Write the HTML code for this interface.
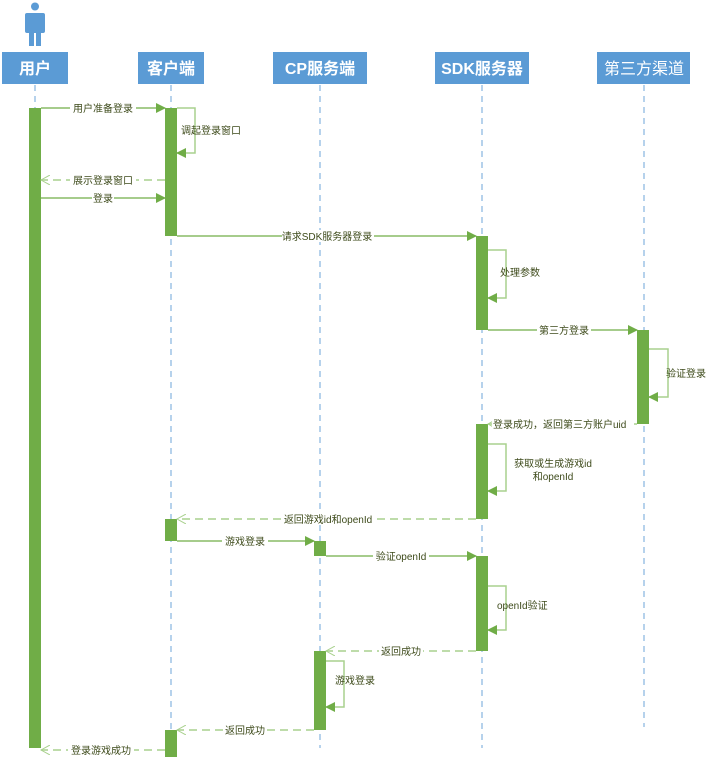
<!DOCTYPE html>
<html><head><meta charset="utf-8"><style>
html,body{margin:0;padding:0;background:#fff;}
svg text{font-family:"Liberation Sans","Noto Sans CJK SC",sans-serif;}
</style></head><body>
<svg width="715" height="762" viewBox="0 0 715 762" xmlns="http://www.w3.org/2000/svg">
<defs>
<marker id="fa" markerWidth="10" markerHeight="10" refX="9" refY="5" orient="auto" markerUnits="userSpaceOnUse"><path d="M0,0 L10,5 L0,10 z" fill="#70ad47"/></marker>
<marker id="oa" markerWidth="10" markerHeight="10" refX="9" refY="5" orient="auto" markerUnits="userSpaceOnUse"><path d="M0,0 L9,5 L0,10" fill="none" stroke="#a9d18e" stroke-width="1"/></marker>
<marker id="la" markerWidth="10" markerHeight="10" refX="9" refY="5" orient="auto" markerUnits="userSpaceOnUse"><path d="M0,0 L10,5 L0,10 z" fill="#70ad47"/></marker>
</defs>
<!-- person -->
<g fill="#5b9bd5">
<circle cx="35" cy="6.5" r="4"/>
<rect x="25" y="13" width="20" height="20" rx="2"/>
<rect x="29" y="30" width="5" height="16"/>
<rect x="36" y="30" width="5" height="16"/>
</g>
<!-- lifelines -->
<g stroke="#9dc3e6" stroke-width="1.5" stroke-dasharray="6,5">
<line x1="35" y1="85" x2="35" y2="748"/>
<line x1="171" y1="85" x2="171" y2="757"/>
<line x1="320" y1="85" x2="320" y2="748"/>
<line x1="482" y1="85" x2="482" y2="748"/>
<line x1="644" y1="85" x2="644" y2="727"/>
</g>
<!-- headers -->
<g fill="#5b9bd5">
<rect x="2" y="52" width="66" height="32"/>
<rect x="138" y="52" width="66" height="32"/>
<rect x="273" y="52" width="94" height="32"/>
<rect x="435" y="52" width="94" height="32"/>
<rect x="597" y="52" width="93" height="32"/>
</g>
<g fill="#fff" font-size="16" font-weight="bold" text-anchor="middle">
<text x="35" y="74">用户</text>
<text x="171" y="74">客户端</text>
<text x="320" y="74">CP服务端</text>
<text x="482" y="74">SDK服务器</text>
<text x="644" y="74" font-weight="normal">第三方渠道</text>
</g>
<!-- activations -->
<g fill="#70ad47">
<rect x="29" y="108" width="12" height="640"/>
<rect x="165" y="108" width="12" height="128"/>
<rect x="165" y="519" width="12" height="22"/>
<rect x="165" y="730" width="12" height="27"/>
<rect x="476" y="236" width="12" height="94"/>
<rect x="476" y="424" width="12" height="95"/>
<rect x="476" y="556" width="12" height="95"/>
<rect x="637" y="330" width="12" height="94"/>
<rect x="314" y="541" width="12" height="15"/>
<rect x="314" y="651" width="12" height="79"/>
</g>
<!-- solid messages -->
<g stroke="#70ad47" stroke-width="1.3" fill="none">
<line x1="41" y1="108" x2="165" y2="108" marker-end="url(#fa)"/>
<line x1="41" y1="198" x2="165" y2="198" marker-end="url(#fa)"/>
<line x1="177" y1="236" x2="476" y2="236" marker-end="url(#fa)"/>
<line x1="488" y1="330" x2="637" y2="330" marker-end="url(#fa)"/>
<line x1="177" y1="541" x2="314" y2="541" marker-end="url(#fa)"/>
<line x1="326" y1="556" x2="476" y2="556" marker-end="url(#fa)"/>
</g>
<!-- self loops -->
<g stroke="#a9d18e" stroke-width="1.5" fill="none">
<polyline points="177,108 195,108 195,153 177,153" marker-end="url(#la)"/>
<polyline points="488,250 506,250 506,298 488,298" marker-end="url(#la)"/>
<polyline points="649,349 668,349 668,397 649,397" marker-end="url(#la)"/>
<polyline points="488,444 506,444 506,491 488,491" marker-end="url(#la)"/>
<polyline points="488,586 506,586 506,630 488,630" marker-end="url(#la)"/>
<polyline points="326,661 344,661 344,707 326,707" marker-end="url(#la)"/>
</g>
<!-- dashed returns -->
<g stroke="#a9d18e" stroke-width="1.5" fill="none" stroke-dasharray="8,5">
<line x1="165" y1="180" x2="41" y2="180" marker-end="url(#oa)"/>
<line x1="637" y1="424" x2="488" y2="424" marker-end="url(#oa)"/>
<line x1="476" y1="519" x2="177" y2="519" marker-end="url(#oa)"/>
<line x1="476" y1="651" x2="326" y2="651" marker-end="url(#oa)"/>
<line x1="314" y1="730" x2="177" y2="730" marker-end="url(#oa)"/>
<line x1="165" y1="750" x2="41" y2="750" marker-end="url(#oa)"/>
</g>
<!-- labels -->
<g font-size="10" fill="#3d4a1a">
<g text-anchor="middle">
<rect x="70" y="102" width="66" height="12" fill="#fff"/><text x="103" y="112">用户准备登录</text>
<rect x="70" y="174" width="66" height="12" fill="#fff"/><text x="103" y="184">展示登录窗口</text>
<rect x="92" y="192" width="22" height="12" fill="#fff"/><text x="103" y="202">登录</text>
<rect x="282" y="230" width="92" height="12" fill="#fff"/><text x="327" y="240">请求SDK服务器登录</text>
<rect x="537" y="324" width="54" height="12" fill="#fff"/><text x="564" y="334">第三方登录</text>
<rect x="281" y="513" width="94" height="12" fill="#fff"/><text x="328" y="523">返回游戏id和openId</text>
<rect x="222" y="535" width="46" height="12" fill="#fff"/><text x="245" y="545">游戏登录</text>
<rect x="373" y="550" width="56" height="12" fill="#fff"/><text x="401" y="560">验证openId</text>
<rect x="379" y="645" width="44" height="12" fill="#fff"/><text x="401" y="655">返回成功</text>
<rect x="223" y="724" width="44" height="12" fill="#fff"/><text x="245" y="734">返回成功</text>
<rect x="68" y="744" width="66" height="12" fill="#fff"/><text x="101" y="754">登录游戏成功</text>
<text x="553" y="467">获取或生成游戏id</text>
<text x="553" y="480">和openId</text>
</g>
<rect x="492" y="418" width="142" height="12" fill="#fff"/>
<text x="493" y="428">登录成功，返回第三方账户uid</text>
<text x="181" y="134">调起登录窗口</text>
<text x="500" y="276">处理参数</text>
<text x="666" y="377">验证登录</text>
<text x="497" y="609">openId验证</text>
<text x="335" y="684">游戏登录</text>
</g>
</svg>
</body></html>
